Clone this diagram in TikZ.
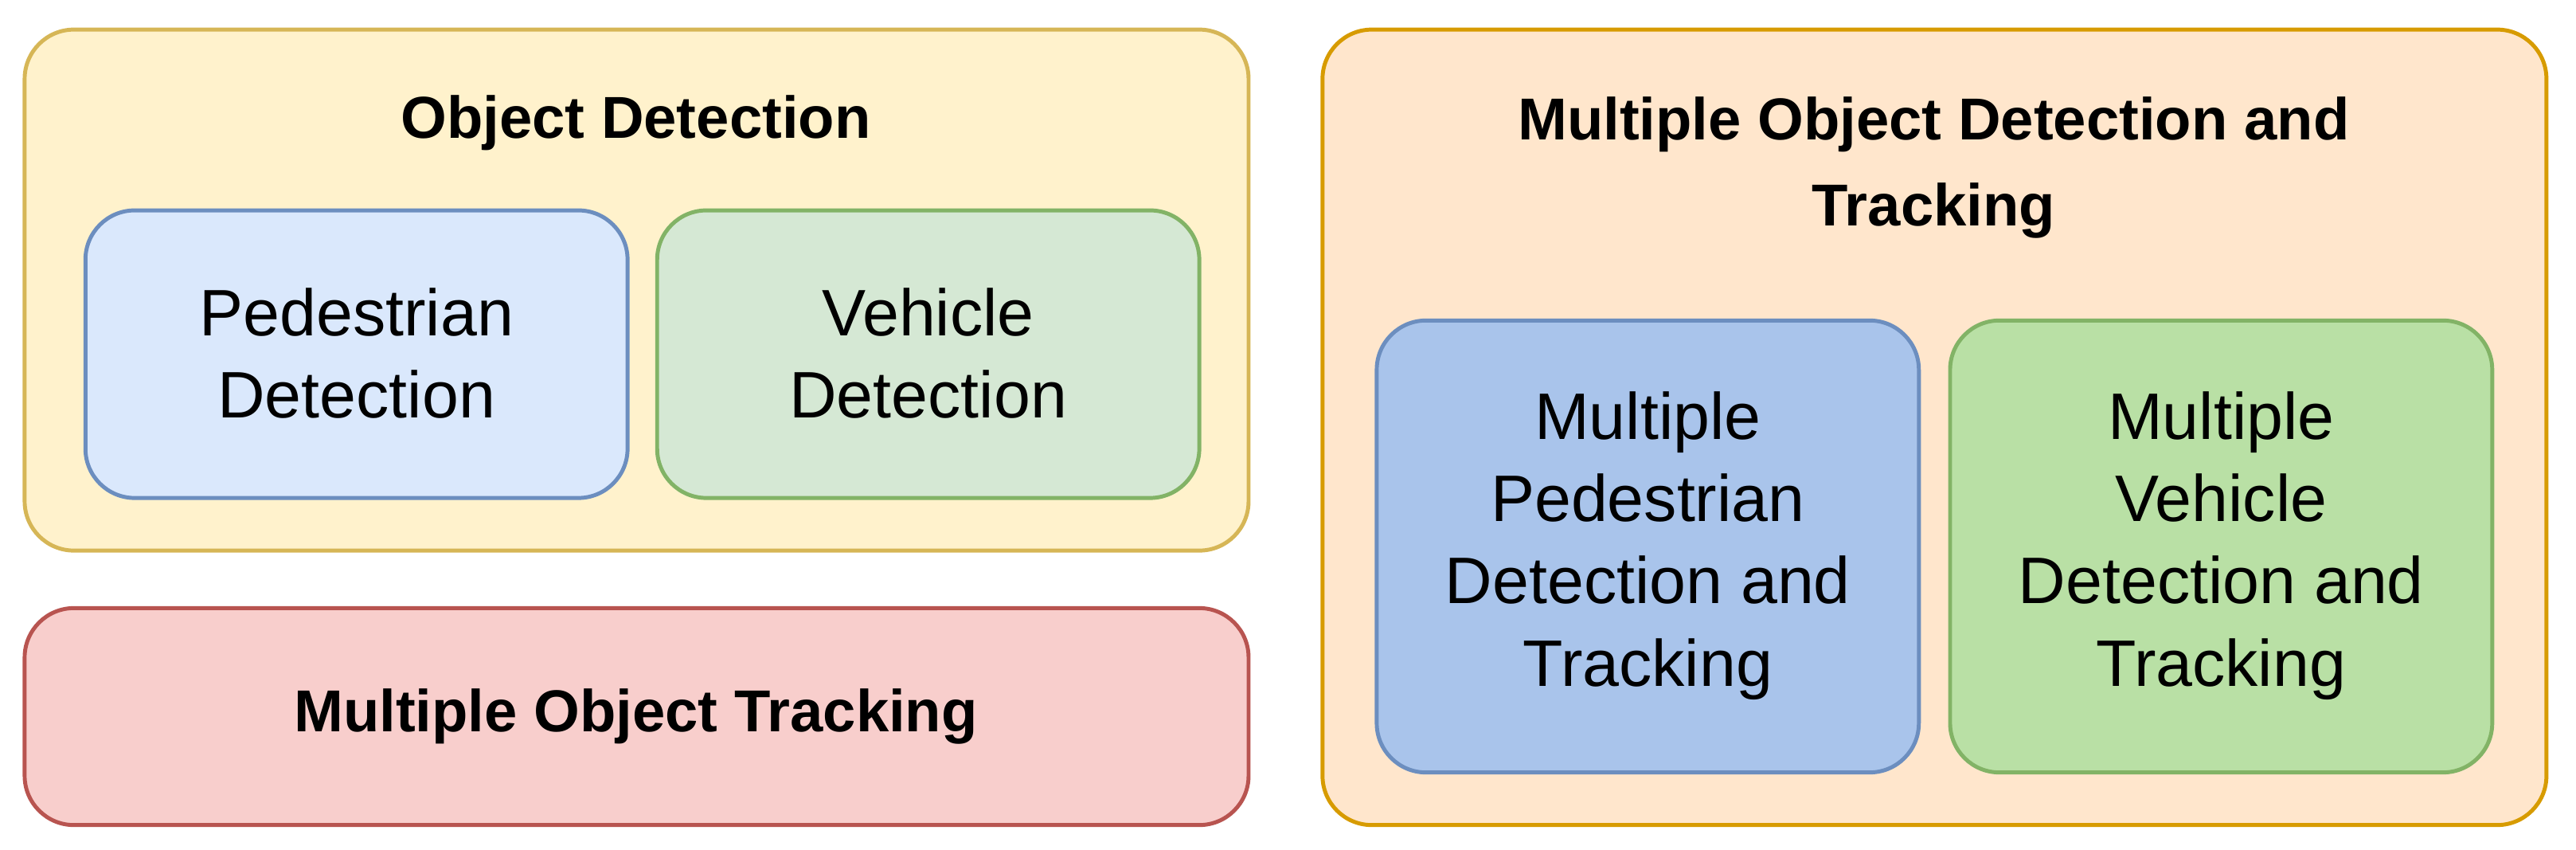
\documentclass[tikz,border=0pt]{standalone}
\usepackage{fontspec}
\setmainfont{Liberation Sans}
\begin{document}
\begin{tikzpicture}[x=0.5pt,y=-0.5pt,
 box/.style={rounded corners=15pt,line width=1.2pt},
 lbl/.style={align=center,font=\fontsize{20}{25}\selectfont},
 ttl/.style={align=center,font=\bfseries\fontsize{18}{26}\selectfont}]
\definecolor{yf}{HTML}{FFF2CC}\definecolor{ys}{HTML}{D6B656}
\definecolor{bf}{HTML}{DAE8FC}\definecolor{bs}{HTML}{6C8EBF}
\definecolor{gf}{HTML}{D5E8D4}\definecolor{gs}{HTML}{82B366}
\definecolor{rf}{HTML}{F8CECC}\definecolor{rs}{HTML}{B85450}
\definecolor{of}{HTML}{FFE6CC}\definecolor{os}{HTML}{D79B00}
\definecolor{bf2}{HTML}{A9C4EB}\definecolor{gf2}{HTML}{B9E0A5}
\useasboundingbox (0,0) rectangle (1568,517);
\draw[box,fill=yf,draw=ys] (15,18) rectangle (760,335);
\node[ttl] (od) at (387,75) {Object Detection};
\draw[box,fill=bf,draw=bs] (52,128) rectangle (382,303);
\node[lbl] (pd) at (217,215) {Pedestrian\\Detection};
\draw[box,fill=gf,draw=gs] (400,128) rectangle (730,303);
\node[lbl] (vd) at (565,215) {Vehicle\\Detection};
\draw[box,fill=rf,draw=rs] (15,370) rectangle (760,502);
\node[ttl] (mot) at (387,436) {Multiple Object Tracking};
\draw[box,fill=of,draw=os] (805,18) rectangle (1550,502);
\node[ttl] (modt) at (1177,102) {Multiple Object Detection and\\Tracking};
\draw[box,fill=bf2,draw=bs] (838,195) rectangle (1168,470);
\node[lbl] (mpd) at (1003,332) {Multiple\\Pedestrian\\Detection and\\Tracking};
\draw[box,fill=gf2,draw=gs] (1187,195) rectangle (1517,470);
\node[lbl] (mvd) at (1352,332) {Multiple\\Vehicle\\Detection and\\Tracking};
\end{tikzpicture}
\end{document}
